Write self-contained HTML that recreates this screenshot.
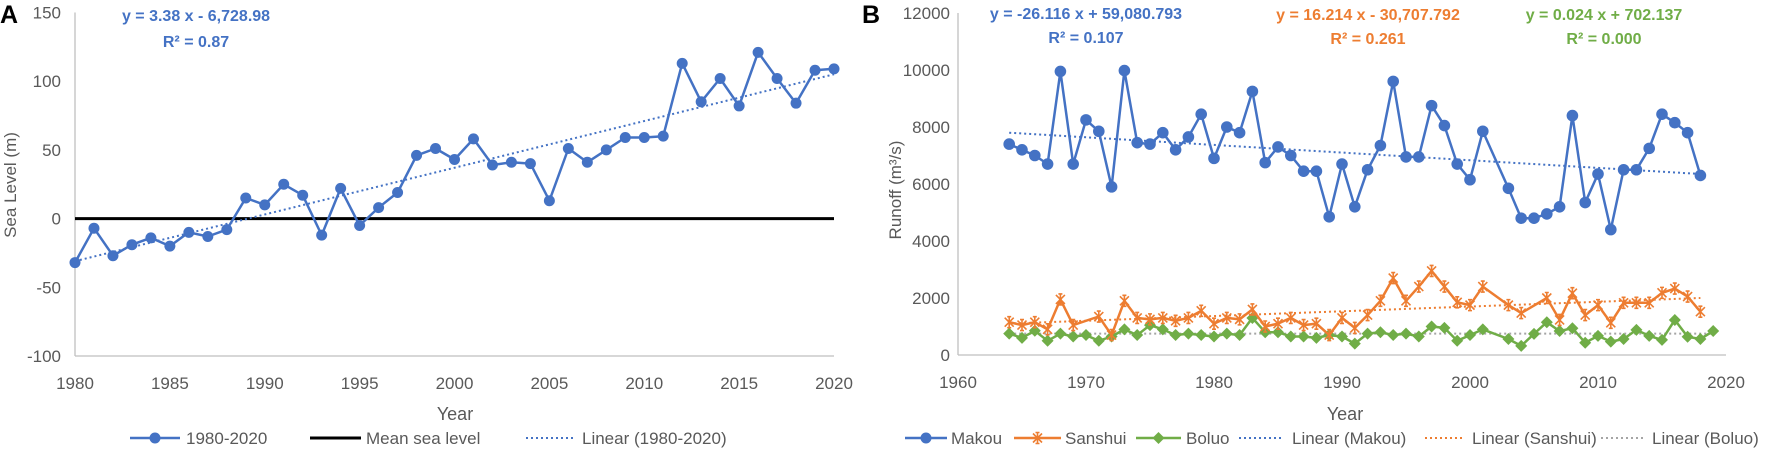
<!DOCTYPE html>
<html><head><meta charset="utf-8">
<style>
html,body{margin:0;padding:0;background:#fff;}
svg{display:block;font-family:"Liberation Sans",sans-serif;}
</style></head>
<body>
<svg id="c" width="1772" height="450" viewBox="0 0 1772 450"></svg>
<script>
// ---- Chart A data ----
const yearsA = [1980,1981,1982,1983,1984,1985,1986,1987,1988,1989,1990,1991,1992,1993,1994,1995,1996,1997,1998,1999,2000,2001,2002,2003,2004,2005,2006,2007,2008,2009,2010,2011,2012,2013,2014,2015,2016,2017,2018,2019,2020];
const seaLevel = [-32,-7,-27,-19,-14,-20,-10,-13,-8,15,10,25,17,-12,22,-5,8,19,46,51,43,58,39,41,40,13,51,41,50,59,59,60,113,85,102,82,121,102,84,108,109];
const trendAYears = [1980,2020];
const trendAValues = [-31,105];
const ticksAX = [1980,1985,1990,1995,2000,2005,2010,2015,2020];
const ticksAY = [-100,-50,0,50,100,150];

// ---- Chart B data ----
const yearsB = [1964,1965,1966,1967,1968,1969,1970,1971,1972,1973,1974,1975,1976,1977,1978,1979,1980,1981,1982,1983,1984,1985,1986,1987,1988,1989,1990,1991,1992,1993,1994,1995,1996,1997,1998,1999,2000,2001,2002,2003,2004,2005,2006,2007,2008,2009,2010,2011,2012,2013,2014,2015,2016,2017,2018,2019];
const makou = [7400,7200,7000,6700,9950,6700,8250,7850,5900,9980,7450,7400,7800,7200,7650,8450,6900,8000,7800,9250,6750,7300,7000,6450,6450,4850,6700,5200,6500,7350,9600,6950,6950,8750,8050,6700,6150,7850,null,5850,4800,4800,4950,5200,8400,5350,6350,4400,6500,6500,7250,8450,8150,7800,6300,null];
const sanshui = [1150,1050,1150,900,1950,1050,null,1350,700,1900,1300,1250,1300,1200,1300,1550,1100,1300,1250,1600,1000,1100,1300,1050,1100,700,1300,950,1400,1900,2700,1900,2400,2950,2400,1850,1750,2400,null,1750,1470,null,2000,1230,2170,1400,1750,1130,1830,1830,1830,2180,2330,2050,1520,null];
const boluo = [750,600,850,500,750,650,700,500,650,900,700,1050,900,700,750,700,650,750,700,1300,800,800,650,650,600,700,650,400,750,800,700,750,650,1000,950,500,700,900,null,560,320,740,1150,840,940,430,670,470,560,880,670,530,1230,640,560,840];
const trendMakou = [7800,6350];
const trendSanshui = [1100,2000];
const trendBoluo = [750,750];
const trendMakouYears = [1964,2018];
const trendSanshuiYears = [1964,2018];
const trendBoluoYears = [1964,2019];
const ticksBX = [1960,1970,1980,1990,2000,2010,2020];
const ticksBY = [0,2000,4000,6000,8000,10000,12000];

const NS = "http://www.w3.org/2000/svg";
const svg = document.getElementById('c');
function mk(tag, attrs, parent){
  const e = document.createElementNS(NS, tag);
  for (const k in attrs) e.setAttribute(k, attrs[k]);
  (parent||svg).appendChild(e);
  return e;
}
function txt(s, x, y, attrs, parent){
  const t = mk('text', Object.assign({x:x, y:y}, attrs), parent);
  t.textContent = s;
  return t;
}

// ---------- Axis functions ----------
const axA = {x0:75, x1:834, y0:356, y1:12.5, xmin:1980, xmax:2020, ymin:-100, ymax:150, lblOff:14};
const axB = {x0:958, x1:1726, y0:355, y1:13, xmin:1960, xmax:2020, ymin:0, ymax:12000, lblOff:8};
function sx(ax, v){ return ax.x0 + (v-ax.xmin)/(ax.xmax-ax.xmin)*(ax.x1-ax.x0); }
function sy(ax, v){ return ax.y0 - (v-ax.ymin)/(ax.ymax-ax.ymin)*(ax.y0-ax.y1); }

function pathFor(ax, xs, ys){
  let d = '', pen = false;
  for (let i=0;i<xs.length;i++){
    if (ys[i]===null || ys[i]===undefined){ continue; }
    d += (pen?'L':'M') + sx(ax,xs[i]).toFixed(1) + ' ' + sy(ax,ys[i]).toFixed(1) + ' ';
    pen = true;
  }
  return d;
}

function drawAxes(ax, xt, yt, gName){
  const g = mk('g', {});
  
  
  const yl = mk('line', {x1:ax.x0, y1:ax.y1, x2:ax.x0, y2:ax.y0, stroke:'#BFBFBF', 'stroke-width':1.3}, g);
  
  
  const xl = mk('line', {x1:ax.x0, y1:ax.y0, x2:ax.x1, y2:ax.y0, stroke:'#BFBFBF', 'stroke-width':1.3}, g);
  
  
  xt.forEach(v=>{
    const t = txt(String(v), sx(ax,v), ax.y0+33, {'font-size':17, fill:'#595959', 'text-anchor':'middle'}, g);
    
    
  });
  yt.forEach(v=>{
    const t = txt(String(v), ax.x0-ax.lblOff, sy(ax,v)+6, {'font-size':17, fill:'#595959', 'text-anchor':'end'}, g);
    
    
  });
}

function circleMarker(g, x, y, r, color){
  return mk('circle', {cx:x, cy:y, r:r, fill:color}, g);
}
function diamondMarker(g, x, y, r, color){
  return mk('path', {d:`M${x} ${y-r}L${x+r} ${y}L${x} ${y+r}L${x-r} ${y}Z`, fill:color}, g);
}
function starMarker(g, x, y, r, color){
  return mk('path', {d:`M${x-r} ${y-r}L${x+r} ${y+r}M${x-r} ${y+r}L${x+r} ${y-r}M${x} ${y-r-1}L${x} ${y+r+1}M${x-2} ${y-r-1}L${x+2} ${y-r-1}M${x-2} ${y+r+1}L${x+2} ${y+r+1}`, stroke:color, 'stroke-width':1.6, fill:'none'}, g);
}

// ---------- Chart A ----------
drawAxes(axA, ticksAX, ticksAY, 'chart-a-axes');
const lblA = txt('A', 0, 23, {'font-size':25, 'font-weight':'bold', fill:'#000'});


const ytA = txt('Sea Level (m)', 0, 0, {'font-size':17, fill:'#595959', 'text-anchor':'middle', transform:'translate(16,185) rotate(-90)'});


const xtA = txt('Year', 455, 420, {'font-size':18, fill:'#595959', 'text-anchor':'middle'});


const eqA = txt('y = 3.38 x - 6,728.98', 196, 21, {'font-size':16, 'font-weight':'bold', fill:'#4472C4', 'text-anchor':'middle'});


const r2A = txt('R² = 0.87', 196, 47, {'font-size':16, 'font-weight':'bold', fill:'#4472C4', 'text-anchor':'middle'});



const msl = mk('line', {x1:axA.x0, x2:axA.x1, y1:sy(axA,0), y2:sy(axA,0), stroke:'#000', 'stroke-width':3});



const trA = mk('path', {d:pathFor(axA, trendAYears, trendAValues), stroke:'#4472C4', 'stroke-width':2, 'stroke-dasharray':'2 3', fill:'none'});



const gA = mk('g', {});


mk('path', {d:pathFor(axA, yearsA, seaLevel), stroke:'#4472C4', 'stroke-width':2.5, fill:'none', 'stroke-linejoin':'round'}, gA);
yearsA.forEach((yr,i)=>{
  const c = circleMarker(gA, sx(axA,yr), sy(axA,seaLevel[i]), 5.5, '#4472C4');
  
  
});

// Legend
function legendItem(kind, color, x1, x2, tx, label, y, name){
  const g = mk('g', {});
  
  
  const attrs = {x1:x1, x2:x2, y1:y, y2:y, stroke:color};
  if (kind==='dot') { attrs['stroke-width']=2; attrs['stroke-dasharray']='2 3'; }
  else if (kind==='black') attrs['stroke-width']=3;
  else attrs['stroke-width']=2.5;
  mk('line', attrs, g);
  const mx = (x1+x2)/2;
  if (kind==='circle') circleMarker(g, mx, y, 5.5, color);
  if (kind==='diamond') diamondMarker(g, mx, y, 6, color);
  if (kind==='star') starMarker(g, mx, y, 4.5, color);
  txt(label, tx, y+6, {'font-size':17, fill:'#595959'}, g);
}
legendItem('circle','#4472C4',130,180,186,'1980-2020',438,'legend-1980-2020');
legendItem('black','#000',310,361,366,'Mean sea level',438,'legend-mean-sea-level');
legendItem('dot','#4472C4',526,574,582,'Linear (1980-2020)',438,'legend-linear-1980-2020');

// ---------- Chart B ----------
drawAxes(axB, ticksBX, ticksBY, 'chart-b-axes');
const lblB = txt('B', 862, 23, {'font-size':25, 'font-weight':'bold', fill:'#000'});


const ytB = txt('Runoff (m³/s)', 0, 0, {'font-size':17, fill:'#595959', 'text-anchor':'middle', transform:'translate(901,190) rotate(-90)'});


const xtB = txt('Year', 1345, 420, {'font-size':18, fill:'#595959', 'text-anchor':'middle'});



function eq(s, x, y, color, name){
  const t = txt(s, x, y, {'font-size':16, 'font-weight':'bold', fill:color, 'text-anchor':'middle'});
  
  
}
eq('y = -26.116 x + 59,080.793', 1086, 19, '#4472C4', 'makou-equation');
eq('R² = 0.107', 1086, 43, '#4472C4', 'makou-r-squared');
eq('y = 16.214 x - 30,707.792', 1368, 20, '#ED7D31', 'sanshui-equation');
eq('R² = 0.261', 1368, 44, '#ED7D31', 'sanshui-r-squared');
eq('y = 0.024 x + 702.137', 1604, 20, '#70AD47', 'boluo-equation');
eq('R² = 0.000', 1604, 44, '#70AD47', 'boluo-r-squared');

function trend(xs, vals, color, name){
  const p = mk('path', {d:pathFor(axB, xs, vals), stroke:color, 'stroke-width':2, 'stroke-dasharray':'2 3', fill:'none'});
  
  
}
trend(trendBoluoYears, trendBoluo, '#A5A5A5', 'linear-boluo');

function series(vals, color, marker, name){
  const g = mk('g', {});
  
  
  mk('path', {d:pathFor(axB, yearsB, vals), stroke:color, 'stroke-width':2.5, fill:'none', 'stroke-linejoin':'round'}, g);
  yearsB.forEach((yr,i)=>{
    if (vals[i]===null) return;
    const x = sx(axB,yr), y = sy(axB,vals[i]);
    let m;
    if (marker==='circle') m = circleMarker(g, x, y, 5.8, color);
    else if (marker==='diamond') m = diamondMarker(g, x, y, 6, color);
    else m = starMarker(g, x, y, 4.5, color);
    
    
  });
}
series(boluo, '#70AD47', 'diamond', 'series-boluo');
series(sanshui, '#ED7D31', 'star', 'series-sanshui');
trend(trendSanshuiYears, trendSanshui, '#ED7D31', 'linear-sanshui');
series(makou, '#4472C4', 'circle', 'series-makou');
trend(trendMakouYears, trendMakou, '#4472C4', 'linear-makou');

legendItem('circle','#4472C4',905,947,951,'Makou',438,'legend-makou');
legendItem('star','#ED7D31',1014,1061,1065,'Sanshui',438,'legend-sanshui');
legendItem('diamond','#70AD47',1136,1181,1186,'Boluo',438,'legend-boluo');
legendItem('dot','#4472C4',1239,1283,1292,'Linear (Makou)',438,'legend-linear-makou');
legendItem('dot','#ED7D31',1425,1464,1472,'Linear (Sanshui)',438,'legend-linear-sanshui');
legendItem('dot','#A5A5A5',1601,1644,1652,'Linear (Boluo)',438,'legend-linear-boluo');
</script>
</body></html>
